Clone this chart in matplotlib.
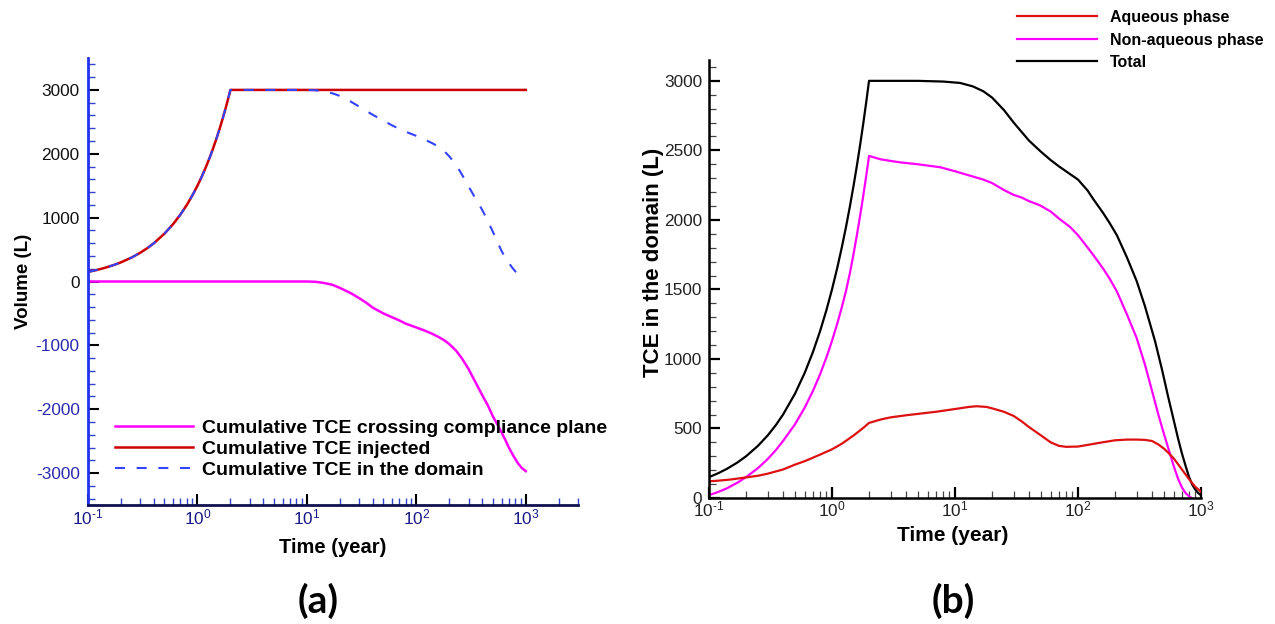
import matplotlib
matplotlib.use("Agg")
import matplotlib.pyplot as plt
from matplotlib.ticker import MultipleLocator, FixedLocator, FuncFormatter, LogLocator, NullFormatter
import numpy as np

plt.rcParams['font.family'] = ['Liberation Sans', 'DejaVu Sans']
plt.rcParams['mathtext.fontset'] = 'custom'
plt.rcParams['mathtext.rm'] = 'Liberation Sans'
plt.rcParams['mathtext.it'] = 'Liberation Sans:italic'
plt.rcParams['mathtext.bf'] = 'Liberation Sans:bold'
plt.rcParams['axes.unicode_minus'] = False

# ---------------- Panel (a) data ----------------
t_injected = [0.1, 0.12, 0.14, 0.17, 0.2, 0.25, 0.3, 0.35, 0.4, 0.5, 0.6, 0.7, 0.8, 0.9, 1.0,
              1.1, 1.2, 1.3, 1.4, 1.5, 1.6, 1.7, 1.8, 1.9, 2.0, 10, 100, 1000]
v_injected = [150, 180, 210, 255, 300, 375, 450, 525, 600, 750, 900, 1050, 1200, 1350, 1500,
              1650, 1800, 1950, 2100, 2250, 2400, 2550, 2700, 2850, 3000, 3000, 3000, 3000]

t_domain = [0.1, 0.12, 0.14, 0.17, 0.2, 0.25, 0.3, 0.35, 0.4, 0.5, 0.6, 0.7, 0.8, 0.9, 1.0,
            1.1, 1.2, 1.3, 1.4, 1.5, 1.6, 1.7, 1.8, 1.9, 2.0,
            10, 12, 14, 16, 18, 20, 25, 30, 35, 40, 50, 60, 70, 80, 100, 120, 140, 160, 180,
            200, 230, 260, 300, 350, 400, 450, 500, 550, 600, 650, 700, 750, 800, 850, 900,
            950, 1000]
v_domain = [150, 180, 210, 255, 300, 375, 450, 525, 600, 750, 900, 1050, 1200, 1350, 1500,
            1650, 1800, 1950, 2100, 2250, 2400, 2550, 2700, 2850, 3000,
            3000, 2995, 2980, 2960, 2935, 2905, 2820, 2740, 2670, 2610, 2520, 2445, 2390, 2345,
            2280, 2220, 2165, 2110, 2040, 1960, 1830, 1680, 1490, 1290, 1120, 950, 780, 620,
            480, 370, 290, 220, 160, 115, 90, 70, 55]

t_crossing = [0.1, 1.0, 8, 10, 12, 14, 17, 20, 25, 30, 35, 40, 50, 60, 70, 80, 100, 120, 140,
              160, 180, 200, 230, 260, 300, 350, 400, 450, 500, 550, 600, 650, 700, 770, 850,
              920, 1000]
v_crossing = [0, 0, 0, 0, -5, -20, -50, -100, -180, -260, -335, -410, -500, -560, -610, -660,
              -720, -770, -820, -870, -920, -980, -1080, -1200, -1370, -1590, -1780, -1940,
              -2110, -2240, -2360, -2480, -2600, -2730, -2850, -2920, -2970]

# ---------------- Panel (b) data ----------------
t_total = [0.1, 0.12, 0.14, 0.17, 0.2, 0.25, 0.3, 0.35, 0.4, 0.5, 0.6, 0.7, 0.8, 0.9, 1.0,
           1.1, 1.2, 1.3, 1.4, 1.5, 1.6, 1.7, 1.8, 1.9, 2.0,
           3, 5, 8, 11, 14, 17, 20, 25, 30, 35, 40, 50, 60, 70, 86, 100, 120, 133, 160, 180,
           207, 250, 300, 350, 423, 480, 540, 600, 650, 700, 750, 800, 850, 900, 950, 1000]
v_total = [150, 180, 210, 255, 300, 375, 450, 525, 600, 750, 900, 1050, 1200, 1350, 1500,
           1650, 1800, 1950, 2100, 2250, 2400, 2550, 2700, 2850, 3000,
           3000, 3000, 2995, 2985, 2960, 2925, 2880, 2790, 2700, 2630, 2570, 2490, 2430, 2385,
           2330, 2290, 2210, 2150, 2050, 1980, 1890, 1730, 1560, 1380, 1128, 930, 730, 560,
           430, 320, 230, 150, 95, 60, 35, 20]

t_nonaq = [0.1, 0.12, 0.14, 0.17, 0.2, 0.25, 0.3, 0.35, 0.4, 0.5, 0.6, 0.7, 0.8, 0.9, 1.0,
           1.1, 1.2, 1.3, 1.4, 1.5, 1.6, 1.7, 1.8, 1.9, 2.0,
           2.5, 3.57, 5, 7.55, 10, 13, 17, 20, 25, 29.8, 35, 40, 49, 60, 70, 86, 100, 120, 133,
           160, 180, 207, 250, 300, 350, 400, 450, 500, 550, 600, 650, 700, 750, 800, 840]
v_nonaq = [20, 45, 70, 110, 150, 215, 280, 345, 410, 530, 650, 770, 890, 1010, 1130,
           1250, 1370, 1490, 1620, 1760, 1900, 2040, 2180, 2320, 2460,
           2435, 2414, 2400, 2379, 2350, 2320, 2290, 2265, 2215, 2181, 2160, 2135, 2105, 2060,
           2010, 1950, 1890, 1800, 1748, 1650, 1580, 1486, 1320, 1150, 960, 770, 600, 460, 340,
           230, 140, 75, 35, 12, 0]

t_aq = [0.1, 0.12, 0.15, 0.2, 0.25, 0.3, 0.4, 0.5, 0.6, 0.7, 0.8, 1.0, 1.2, 1.5, 1.8, 2.0,
        2.5, 3, 4, 5, 7, 10, 13, 15, 18, 20, 25, 30, 35, 40, 50, 60, 70, 80, 100, 120, 150,
        200, 250, 300, 350, 400, 450, 500, 550, 600, 700, 800, 900, 1000]
v_aq = [120, 125, 133, 148, 160, 175, 205, 240, 265, 290, 312, 350, 390, 450, 505, 540,
        565, 580, 595, 605, 620, 640, 655, 660, 655, 645, 620, 590, 550, 510, 450, 400, 375,
        368, 370, 382, 397, 415, 420, 420, 418, 410, 385, 355, 320, 285, 205, 135, 80, 45]

# ---------------- Figure ----------------
fig = plt.figure(figsize=(12.75, 6.24), dpi=100)
W, H = 1275.0, 624.0

def add_axes(l, t, r, b):
    return fig.add_axes([l / W, 1 - b / H, (r - l) / W, (b - t) / H])

axA = add_axes(88, 58, 578, 505)
axB = add_axes(709, 60, 1201, 498)

def logfmt(x, pos):
    e = int(round(np.log10(x)))
    return r'$\mathregular{10^{\text{%d}}}$' % e

BLUE = '#2233ee'
NAVY = '#1a1a88'

# ---- Panel (a) ----
axA.plot(t_crossing, v_crossing, color='#ff00ff', lw=1.8,
         label='Cumulative TCE crossing compliance plane')
axA.plot(t_injected, v_injected, color='#cc0000', lw=1.8, label='Cumulative TCE injected')
ln, = axA.plot(t_domain, v_domain, color='#3344ff', lw=1.5, label='Cumulative TCE in the domain')
ln.set_dashes([4.8, 5.6])

axA.set_xscale('log')
axA.set_xlim(0.1, 3000)
axA.set_ylim(-3500, 3500)
axA.set_yticks([-3000, -2000, -1000, 0, 1000, 2000, 3000])
axA.yaxis.set_minor_locator(MultipleLocator(200))
axA.xaxis.set_major_locator(FixedLocator([0.1, 1, 10, 100, 1000]))
axA.xaxis.set_major_formatter(FuncFormatter(logfmt))
axA.xaxis.set_minor_locator(LogLocator(base=10, subs=np.arange(2, 10), numticks=20))
axA.xaxis.set_minor_formatter(NullFormatter())
for s in ['top', 'right']:
    axA.spines[s].set_visible(False)
axA.spines['left'].set_color(BLUE)
axA.spines['left'].set_linewidth(2.0)
axA.spines['bottom'].set_color('#101050')
axA.spines['bottom'].set_linewidth(2.0)
axA.tick_params(axis='both', which='major', direction='in', length=8, width=1.5,
                color='black', labelsize=12.4)
axA.tick_params(axis='both', which='minor', direction='in', length=5, width=1.0, color='#3344cc')
axA.tick_params(axis='y', which='major', pad=6)
axA.tick_params(axis='x', which='major', pad=2, labelcolor=NAVY)
fig.canvas.draw()
for lab in axA.get_yticklabels():
    try:
        val = float(lab.get_text().replace('\u2212', '-'))
    except ValueError:
        continue
    lab.set_color('#2a2ab0' if val < 0 else '#111111')

axA.set_ylabel('Volume (L)', fontsize=13.5, fontweight='bold')
axA.yaxis.set_label_coords((32 - 88) / 490, 0.5)
axA.set_xlabel('Time (year)', fontsize=14.5, fontweight='bold')
axA.xaxis.set_label_coords(0.5, (505 - 538) / 447)

legA = axA.legend(loc='upper left', bbox_to_anchor=((115 - 88) / 490, (505 - 419) / 447),
                  frameon=False, prop={'weight': 'bold', 'size': 14},
                  handlelength=4.0, handletextpad=0.45, labelspacing=0.19,
                  borderpad=0, borderaxespad=0)

# ---- Panel (b) ----
axB.plot(t_nonaq, v_nonaq, color='#ff00ff', lw=1.6, label='Non-aqueous phase')
axB.plot(t_total, v_total, color='black', lw=1.6, label='Total')
axB.plot(t_aq, v_aq, color='#dd1111', lw=1.6, label='Aqueous phase')

axB.set_xscale('log')
axB.set_xlim(0.1, 1000)
axB.set_ylim(0, 3150)
axB.set_yticks([0, 500, 1000, 1500, 2000, 2500, 3000])
axB.yaxis.set_minor_locator(MultipleLocator(100))
axB.xaxis.set_major_locator(FixedLocator([0.1, 1, 10, 100, 1000]))
axB.xaxis.set_major_formatter(FuncFormatter(logfmt))
axB.xaxis.set_minor_locator(LogLocator(base=10, subs=np.arange(2, 10), numticks=20))
axB.xaxis.set_minor_formatter(NullFormatter())
for s in ['top', 'right']:
    axB.spines[s].set_visible(False)
for s in ['left', 'bottom']:
    axB.spines[s].set_color('black')
    axB.spines[s].set_linewidth(1.8)
axB.tick_params(axis='both', which='major', direction='in', length=8, width=1.6,
                color='black', labelsize=12.4, labelcolor='#222222')
axB.tick_params(axis='both', which='minor', direction='in', length=5, width=0.9, color='#444444')
axB.tick_params(axis='y', which='major', pad=5)
axB.tick_params(axis='x', which='major', pad=1)
axB.set_ylabel('TCE in the domain (L)', fontsize=16, fontweight='bold')
axB.yaxis.set_label_coords((664 - 709) / 492, (498 - 262) / 438)
axB.set_xlabel('Time (year)', fontsize=15, fontweight='bold')
axB.xaxis.set_label_coords(0.496, (498 - 526) / 438)

h, l = axB.get_legend_handles_labels()
order = [2, 0, 1]
legB = axB.legend([h[i] for i in order], [l[i] for i in order], loc='upper left',
                  bbox_to_anchor=(1017 / W, 1 - 10 / H), bbox_transform=fig.transFigure,
                  frameon=False, prop={'weight': 'bold', 'size': 11.5},
                  handlelength=5.0, handletextpad=0.8, labelspacing=0.47,
                  borderpad=0, borderaxespad=0)

# ---- Panel letters ----
fig.text(318 / W, 1 - 601 / H, '(a)', ha='center', va='center', fontsize=28,
         fontweight='bold', family=['Lato', 'DejaVu Sans'])
fig.text(953 / W, 1 - 601 / H, '(b)', ha='center', va='center', fontsize=28,
         fontweight='bold', family=['Lato', 'DejaVu Sans'])

fig.savefig('out.png', dpi=100)
